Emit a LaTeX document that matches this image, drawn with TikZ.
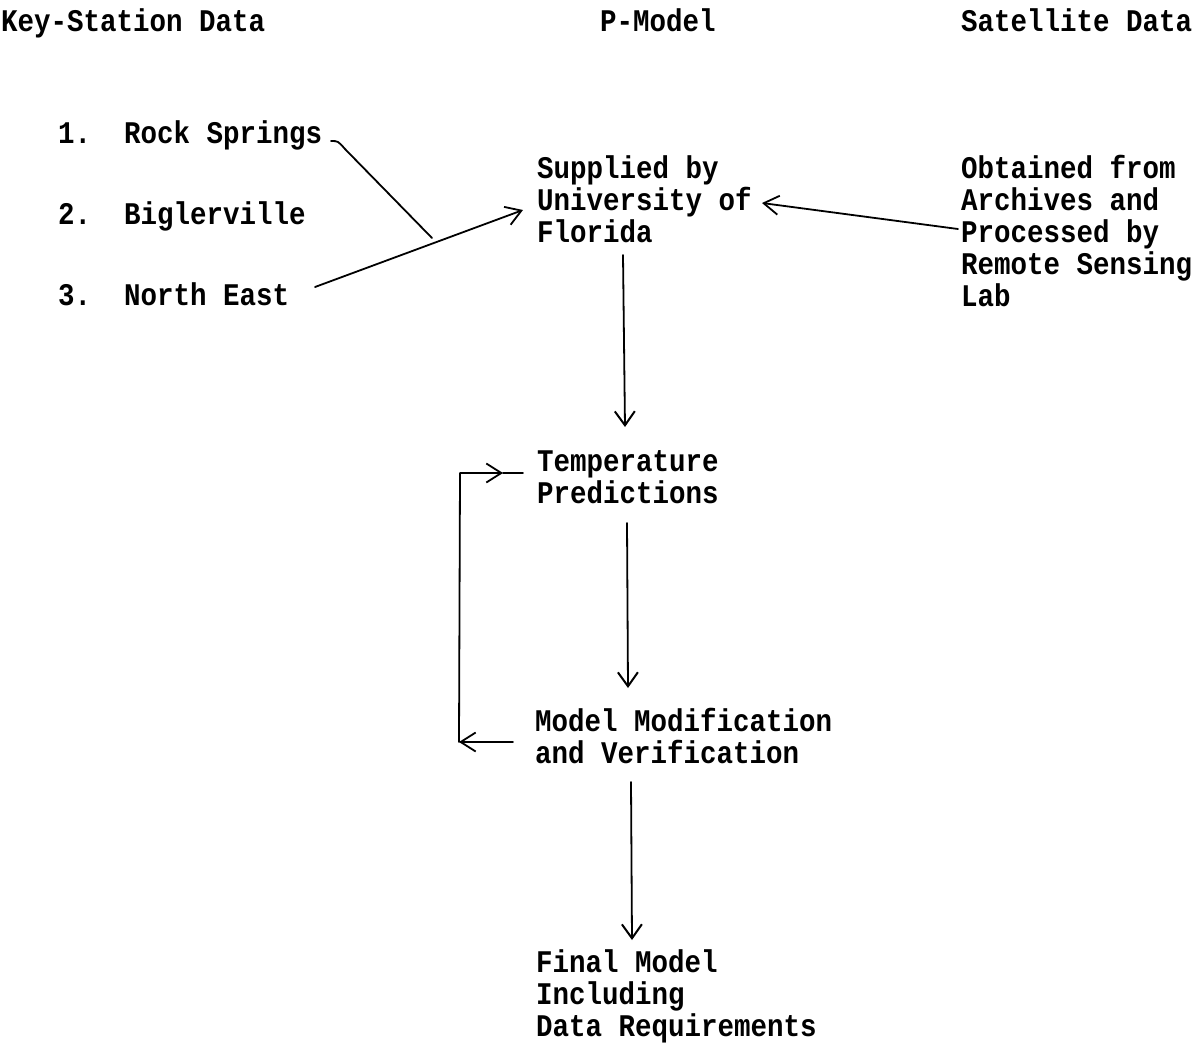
\documentclass[tikz,border=0pt]{standalone}
\usepackage{fontspec}
\setmainfont{Liberation Mono}[FakeStretch=0.873]
\usetikzlibrary{arrows.meta}
\begin{document}
\frenchspacing
\begin{tikzpicture}[x=1pt,y=-1pt,
  txt/.style={anchor=base west, inner sep=0pt, align=left,
    font=\fontsize{31.5}{32}\selectfont\bfseries},
  wire/.style={line width=1.8pt, line cap=round, line join=round},
  barb/.style={wire, -{Straight Barb[length=15pt,width=19pt,line width=1.8pt]}},
  vbarb/.style={wire, -{Straight Barb[length=14pt,width=20pt,line width=2pt]}}]
\useasboundingbox (0,0) rectangle (1200,1045);

% column headings
\node[txt] (hkey) at (1,31) {Key-Station Data};
\node[txt] (hpm)  at (600,31) {P-Model};
\node[txt] (hsat) at (961,31) {Satellite Data};

% key stations
\node[txt] (rs) at (58,143) {1.~~Rock Springs};
\node[txt] (bg) at (58,224) {2.~~Biglerville};
\node[txt] (ne) at (58,305) {3.~~North East};

% model column (multi-line nodes sit on the baseline of their last line)
\node[txt] (sup) at (537,242) {Supplied by\\University of\\Florida};
\node[txt] (sat) at (961,306) {Obtained from\\Archives and\\Processed by\\Remote Sensing\\Lab};
\node[txt] (tp)  at (537,503) {Temperature\\Predictions};
\node[txt] (mm)  at (535,763) {Model Modification\\and Verification};
\node[txt] (fin) at (536,1036) {Final Model\\Including\\Data Requirements};

% connector end points
\coordinate (rsE)  at (331,141);
\coordinate (jn)   at (432,238);
\coordinate (neE)  at (315,287);
\coordinate (supW) at (523,210);
\coordinate (supE) at (762,203);
\coordinate (satW) at (958,229);
\coordinate (supS) at (623,255);
\coordinate (tpN)  at (625,427);
\coordinate (tpS)  at (627,523);
\coordinate (mmN)  at (628,688);
\coordinate (mmS)  at (631,782);
\coordinate (finN) at (632,940);
\coordinate (mmW)  at (513,742);
\coordinate (lpB)  at (459,742);
\coordinate (lpT)  at (460,473);
\coordinate (lpM)  at (503,473);
\coordinate (tpW)  at (523,473);

% station data into the model
\draw[wire] (rsE) .. controls (338,141) .. (345,149) -- (jn);
\draw[barb] (neE) -- (supW);
\draw[barb] (satW) -- (supE);

% main flow
\draw[vbarb] (supS) -- (tpN);
\draw[vbarb] (tpS) -- (mmN);
\draw[vbarb] (mmS) -- (finN);

% modification loop
\draw[barb] (mmW) -- (lpB);
\draw[barb] (lpB) -- (lpT) -- (lpM);
\draw[wire] (lpM) -- (tpW);
\end{tikzpicture}
\end{document}
